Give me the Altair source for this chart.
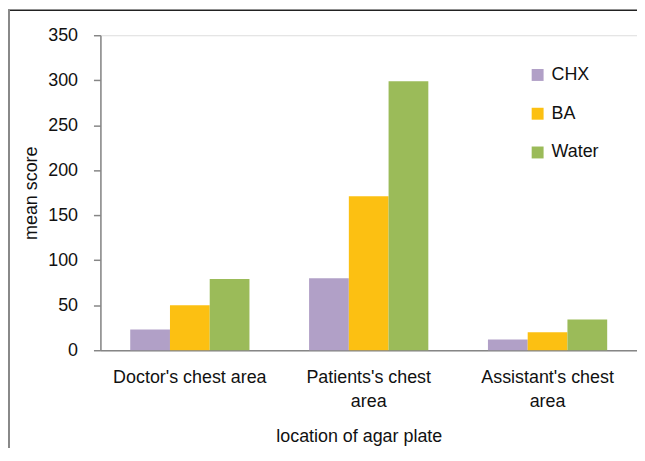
import altair as alt
import pandas as pd

categories = ["Doctor's chest area", "Patients's chest area", "Assistant's chest area"]
series = ["CHX", "BA", "Water"]
chx = [23, 80, 12]
ba = [50, 171, 20]
water = [79, 299, 34]
colors = ["#B1A0C7", "#FCC012", "#9BBB59"]
y_ticks = [0, 50, 100, 150, 200, 250, 300, 350]

rows = []
for i, c in enumerate(categories):
    for s, vals in zip(series, [chx, ba, water]):
        rows.append({"location": c, "treatment": s, "score": vals[i]})
df = pd.DataFrame(rows)

FONT = "Liberation Sans"
FS = 18
AX = "#868686"

bars = alt.Chart(df).mark_bar().encode(
    x=alt.X("location:N", sort=categories,
            scale=alt.Scale(paddingInner=1/3, paddingOuter=1/6),
            axis=alt.Axis(title="location of agar plate", labelAngle=0, ticks=False,
                          domainColor=AX, domainWidth=1.5,
                          labelFont=FONT, labelFontSize=FS, labelColor="#111",
                          labelPadding=18, labelBaseline="top", labelLineHeight=25,
                          labelLimit=300,
                          labelExpr="indexof(datum.value, 'Doctor') == 0 ? datum.value : split(replace(datum.value, ' area', '|area'), '|')",
                          titleFont=FONT, titleFontSize=FS, titleFontWeight="normal",
                          titleColor="#111", titleX=260, titleY=87,
                          titleAlign="center", titleBaseline="middle")),
    xOffset=alt.XOffset("treatment:N", sort=series),
    y=alt.Y("score:Q", scale=alt.Scale(domain=[0, 350], nice=False),
            axis=alt.Axis(title="mean score", values=y_ticks, grid=False,
                          domainColor=AX, domainWidth=1.5, tickColor=AX, tickWidth=1.5,
                          tickSize=7, labelPadding=16,
                          labelFont=FONT, labelFontSize=FS, labelColor="#111",
                          titleFont=FONT, titleFontSize=FS, titleFontWeight="normal",
                          titleColor="#111", titleX=-69, titleY=158.5,
                          titleAlign="center", titleBaseline="middle", titleAngle=-90)),
    color=alt.Color("treatment:N", sort=series,
                    scale=alt.Scale(domain=series, range=colors),
                    legend=alt.Legend(title=None, orient="none", legendX=431, legendY=31,
                                      symbolType="square", symbolSize=144,
                                      symbolStrokeWidth=0, labelOffset=5,
                                      labelFont=FONT, labelFontSize=FS, labelColor="#111",
                                      rowPadding=21, padding=0)),
)

frame = alt.Data(values=[{"k": 1}])
top_border = alt.Chart(frame).mark_rule(color="#222", strokeWidth=1.5).encode(
    x=alt.value(-93), x2=alt.value(545), y=alt.value(-25.25))
left_border = alt.Chart(frame).mark_rule(color="#888", strokeWidth=2).encode(
    x=alt.value(-92), y=alt.value(-26), y2=alt.value(430))

chart = alt.layer(bars, top_border, left_border).properties(
    width=540, height=317,
    autosize=alt.AutoSizeParams(type="none"),
    padding={"left": 93, "top": 26, "right": 0, "bottom": 97},
).configure_view(stroke=None).configure(background="white")

chart.save("out.html", embed_options={"renderer": "svg", "actions": False})
